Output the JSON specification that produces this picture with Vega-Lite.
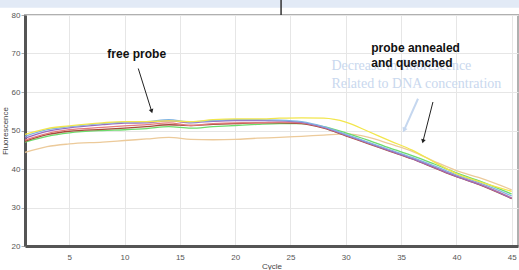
{
  "$schema": "https://vega.github.io/schema/vega-lite/v6.json",
  "autosize": {"type": "none"},
  "padding": {"left": 25, "top": 15, "right": 1, "bottom": 24},
  "width": 493,
  "height": 231,
  "config": {
    "font": "Liberation Sans",
    "view": {"stroke": "#b0b0b0", "strokeWidth": 2},
    "axis": {"gridColor": "#e6e6e6", "gridWidth": 1, "labelFont": "Liberation Sans", "titleFont": "Liberation Sans", "labelOverlap": false}
  },
  "datasets": {
    "curves": [
      {"s":"tan","c":1,"v":44.3},{"s":"tan","c":3,"v":45.8},{"s":"tan","c":5,"v":46.5},{"s":"tan","c":8,"v":47.0},{"s":"tan","c":10,"v":47.4},{"s":"tan","c":12,"v":47.8},{"s":"tan","c":14,"v":48.2},{"s":"tan","c":16,"v":47.7},{"s":"tan","c":18,"v":47.6},{"s":"tan","c":20,"v":47.7},{"s":"tan","c":22,"v":48.0},{"s":"tan","c":24,"v":48.2},{"s":"tan","c":26,"v":48.5},{"s":"tan","c":28,"v":48.8},{"s":"tan","c":30,"v":49.1},{"s":"tan","c":32,"v":48.3},{"s":"tan","c":34,"v":46.5},{"s":"tan","c":36,"v":44.6},{"s":"tan","c":38,"v":42.0},{"s":"tan","c":40,"v":39.6},{"s":"tan","c":42,"v":37.8},{"s":"tan","c":45,"v":34.6},
      {"s":"green","c":1,"v":47.0},{"s":"green","c":3,"v":48.5},{"s":"green","c":5,"v":49.4},{"s":"green","c":8,"v":50.0},{"s":"green","c":10,"v":50.2},{"s":"green","c":12,"v":50.5},{"s":"green","c":14,"v":51.0},{"s":"green","c":16,"v":50.6},{"s":"green","c":18,"v":51.0},{"s":"green","c":20,"v":51.3},{"s":"green","c":22,"v":51.6},{"s":"green","c":24,"v":51.8},{"s":"green","c":26,"v":51.8},{"s":"green","c":28,"v":51.0},{"s":"green","c":30,"v":49.4},{"s":"green","c":32,"v":47.5},{"s":"green","c":34,"v":45.4},{"s":"green","c":36,"v":43.5},{"s":"green","c":38,"v":41.3},{"s":"green","c":40,"v":39.0},{"s":"green","c":42,"v":37.0},{"s":"green","c":45,"v":33.5},
      {"s":"darkred","c":1,"v":47.2},{"s":"darkred","c":3,"v":48.9},{"s":"darkred","c":5,"v":49.8},{"s":"darkred","c":8,"v":50.3},{"s":"darkred","c":10,"v":50.6},{"s":"darkred","c":12,"v":51.0},{"s":"darkred","c":14,"v":51.5},{"s":"darkred","c":16,"v":51.3},{"s":"darkred","c":18,"v":51.6},{"s":"darkred","c":20,"v":51.8},{"s":"darkred","c":22,"v":52.0},{"s":"darkred","c":24,"v":52.0},{"s":"darkred","c":26,"v":51.8},{"s":"darkred","c":28,"v":50.6},{"s":"darkred","c":30,"v":48.6},{"s":"darkred","c":32,"v":46.6},{"s":"darkred","c":34,"v":44.6},{"s":"darkred","c":36,"v":42.6},{"s":"darkred","c":38,"v":40.3},{"s":"darkred","c":40,"v":38.0},{"s":"darkred","c":42,"v":36.0},{"s":"darkred","c":45,"v":32.3},
      {"s":"red","c":1,"v":47.5},{"s":"red","c":3,"v":49.2},{"s":"red","c":5,"v":50.2},{"s":"red","c":8,"v":50.8},{"s":"red","c":10,"v":51.2},{"s":"red","c":12,"v":51.5},{"s":"red","c":14,"v":52.0},{"s":"red","c":16,"v":51.3},{"s":"red","c":18,"v":51.8},{"s":"red","c":20,"v":52.0},{"s":"red","c":22,"v":52.0},{"s":"red","c":24,"v":52.2},{"s":"red","c":26,"v":52.0},{"s":"red","c":28,"v":50.8},{"s":"red","c":30,"v":48.8},{"s":"red","c":32,"v":46.8},{"s":"red","c":34,"v":44.8},{"s":"red","c":36,"v":42.8},{"s":"red","c":38,"v":40.5},{"s":"red","c":40,"v":38.2},{"s":"red","c":42,"v":36.2},{"s":"red","c":45,"v":32.5},
      {"s":"purple","c":1,"v":48.0},{"s":"purple","c":3,"v":49.8},{"s":"purple","c":5,"v":50.7},{"s":"purple","c":8,"v":51.5},{"s":"purple","c":10,"v":51.9},{"s":"purple","c":12,"v":52.0},{"s":"purple","c":14,"v":52.5},{"s":"purple","c":16,"v":52.0},{"s":"purple","c":18,"v":52.4},{"s":"purple","c":20,"v":52.6},{"s":"purple","c":22,"v":52.6},{"s":"purple","c":24,"v":52.5},{"s":"purple","c":26,"v":52.1},{"s":"purple","c":28,"v":50.8},{"s":"purple","c":30,"v":48.8},{"s":"purple","c":32,"v":46.8},{"s":"purple","c":34,"v":44.7},{"s":"purple","c":36,"v":42.7},{"s":"purple","c":38,"v":40.4},{"s":"purple","c":40,"v":38.1},{"s":"purple","c":42,"v":36.1},{"s":"purple","c":45,"v":32.4},
      {"s":"blue","c":1,"v":48.5},{"s":"blue","c":3,"v":50.2},{"s":"blue","c":5,"v":51.0},{"s":"blue","c":8,"v":51.8},{"s":"blue","c":10,"v":52.2},{"s":"blue","c":12,"v":52.3},{"s":"blue","c":14,"v":52.8},{"s":"blue","c":16,"v":52.2},{"s":"blue","c":18,"v":52.6},{"s":"blue","c":20,"v":52.8},{"s":"blue","c":22,"v":52.8},{"s":"blue","c":24,"v":52.7},{"s":"blue","c":26,"v":52.3},{"s":"blue","c":28,"v":51.0},{"s":"blue","c":30,"v":49.0},{"s":"blue","c":32,"v":47.0},{"s":"blue","c":34,"v":45.0},{"s":"blue","c":36,"v":43.0},{"s":"blue","c":38,"v":40.8},{"s":"blue","c":40,"v":38.5},{"s":"blue","c":42,"v":36.5},{"s":"blue","c":45,"v":33.0},
      {"s":"yellow","c":1,"v":49.0},{"s":"yellow","c":3,"v":50.5},{"s":"yellow","c":5,"v":51.2},{"s":"yellow","c":8,"v":52.0},{"s":"yellow","c":10,"v":52.3},{"s":"yellow","c":12,"v":52.3},{"s":"yellow","c":14,"v":52.5},{"s":"yellow","c":16,"v":52.3},{"s":"yellow","c":18,"v":52.8},{"s":"yellow","c":20,"v":53.0},{"s":"yellow","c":22,"v":53.0},{"s":"yellow","c":24,"v":53.2},{"s":"yellow","c":26,"v":53.3},{"s":"yellow","c":28,"v":53.2},{"s":"yellow","c":30,"v":52.2},{"s":"yellow","c":32,"v":49.8},{"s":"yellow","c":34,"v":47.3},{"s":"yellow","c":36,"v":44.9},{"s":"yellow","c":38,"v":41.8},{"s":"yellow","c":40,"v":38.8},{"s":"yellow","c":42,"v":36.8},{"s":"yellow","c":45,"v":34.2}
    ],
    "labels": [
      {"id":"free","c":11.1,"v":69.8,"t":"free probe"},
      {"id":"ann1","c":32.3,"v":71.5,"t":"probe annealed"},
      {"id":"ann2","c":32.3,"v":67.6,"t":"and quenched"},
      {"id":"dec1","c":28.7,"v":66.7,"t":"Decrease in fluorescence"},
      {"id":"dec2","c":28.7,"v":62.0,"t":"Related to DNA concentration"}
    ],
    "arrows": [
      {"id":"a1","x1":11.24,"y1":66.1,"x2":12.45,"y2":55.0},
      {"id":"a2","x1":37.88,"y1":57.4,"x2":36.98,"y2":47.2},
      {"id":"a3","x1":36.53,"y1":58.25,"x2":35.27,"y2":50.1}
    ],
    "frame": [
      {"x1":-1.3,"x2":46.6,"y1":81.9,"y2":84.2,"lx":24.15,"ly1":80,"ly2":84.2}
    ]
  },
  "encoding": {
    "x": {
      "type": "quantitative", "scale": {"domain": [1, 45.57], "nice": false, "zero": false},
      "axis": {"title": "Cycle", "values": [5,10,15,20,25,30,35,40,45], "tickCount": 9, "grid": true, "ticks": false, "domainColor": "#555555", "domainWidth": 3, "labelFontSize": 8, "labelColor": "#555555", "labelPadding": 7, "titleFontSize": 8, "titleFontWeight": "normal", "titleColor": "#444444", "titlePadding": 1, "labelFlush": false, "labelOverlap": false}
    },
    "y": {
      "type": "quantitative", "scale": {"domain": [20, 80], "nice": false, "zero": false},
      "axis": {"title": "Fluorescence", "values": [20,30,40,50,60,70,80], "tickCount": 7, "grid": true, "ticks": true, "tickColor": "#aaaaaa", "tickSize": 4, "domainColor": "#555555", "domainWidth": 3, "labelFontSize": 8, "labelColor": "#555555", "labelPadding": 1, "titleFontSize": 8, "titleFontWeight": "normal", "titleColor": "#444444", "titlePadding": 2, "labelOverlap": false, "labelFlush": false}
    }
  },
  "layer": [
    {
      "data": {"name": "frame"},
      "mark": {"type": "rect", "color": "#e2eaf6", "clip": false},
      "encoding": {
        "x": {"field": "x1"},
        "x2": {"field": "x2"},
        "y": {"field": "y1"},
        "y2": {"field": "y2"}
      }
    },
    {
      "data": {"name": "frame"},
      "mark": {"type": "rule", "color": "#333333", "strokeWidth": 1.5, "clip": false},
      "encoding": {
        "x": {"field": "lx"},
        "y": {"field": "ly1"},
        "y2": {"field": "ly2"}
      }
    },
    {
      "data": {"name": "curves"},
      "mark": {"type": "line", "strokeWidth": 1.3, "interpolate": "monotone"},
      "encoding": {
        "x": {"field": "c"},
        "y": {"field": "v"},
        "color": {
          "field": "s", "type": "nominal", "legend": null,
          "scale": {"domain": ["tan","green","darkred","red","purple","blue","yellow"], "range": ["#ecca9a","#6cdc6c","#a34a3a","#e57b7b","#9a6bc0","#80b4e2","#f2e64c"]}
        }
      }
    },
    {
      "data": {"name": "labels"},
      "transform": [{"filter": "datum.id == 'dec1' || datum.id == 'dec2'"}],
      "mark": {"type": "text", "font": "Liberation Serif", "fontSize": 14, "color": "#c9d8ee", "align": "left", "baseline": "middle"},
      "encoding": {
        "x": {"field": "c"},
        "y": {"field": "v"},
        "text": {"field": "t"}
      }
    },
    {
      "data": {"name": "labels"},
      "transform": [{"filter": "datum.id == 'free'"}],
      "mark": {"type": "text", "font": "Liberation Sans", "fontSize": 12, "fontWeight": "bold", "color": "#111111", "align": "center", "baseline": "middle"},
      "encoding": {
        "x": {"field": "c"},
        "y": {"field": "v"},
        "text": {"field": "t"}
      }
    },
    {
      "data": {"name": "labels"},
      "transform": [{"filter": "datum.id == 'ann1' || datum.id == 'ann2'"}],
      "mark": {"type": "text", "font": "Liberation Sans", "fontSize": 12, "fontWeight": "bold", "color": "#111111", "align": "left", "baseline": "middle"},
      "encoding": {
        "x": {"field": "c"},
        "y": {"field": "v"},
        "text": {"field": "t"}
      }
    },
    {
      "data": {"name": "arrows"},
      "transform": [{"filter": "datum.id != 'a3'"}],
      "mark": {"type": "rule", "color": "#222222", "strokeWidth": 1},
      "encoding": {
        "x": {"field": "x1"},
        "y": {"field": "y1"},
        "x2": {"field": "x2"},
        "y2": {"field": "y2"}
      }
    },
    {
      "data": {"name": "arrows"},
      "transform": [{"filter": "datum.id == 'a3'"}],
      "mark": {"type": "rule", "color": "#c5d7ef", "strokeWidth": 2},
      "encoding": {
        "x": {"field": "x1"},
        "y": {"field": "y1"},
        "x2": {"field": "x2"},
        "y2": {"field": "y2"}
      }
    },
    {
      "data": {"name": "arrows"},
      "transform": [{"filter": "datum.id == 'a1'"}],
      "mark": {"type": "point", "shape": "triangle-up", "filled": true, "color": "#222222", "size": 22, "angle": 162.6, "opacity": 1},
      "encoding": {"x": {"field": "x2"}, "y": {"field": "y2"}}
    },
    {
      "data": {"name": "arrows"},
      "transform": [{"filter": "datum.id == 'a2'"}],
      "mark": {"type": "point", "shape": "triangle-up", "filled": true, "color": "#222222", "size": 22, "angle": 194.3, "opacity": 1},
      "encoding": {"x": {"field": "x2"}, "y": {"field": "y2"}}
    },
    {
      "data": {"name": "arrows"},
      "transform": [{"filter": "datum.id == 'a3'"}],
      "mark": {"type": "point", "shape": "triangle-up", "filled": true, "color": "#c5d7ef", "size": 30, "angle": 203.8, "opacity": 1},
      "encoding": {"x": {"field": "x2"}, "y": {"field": "y2"}}
    }
  ]
}
